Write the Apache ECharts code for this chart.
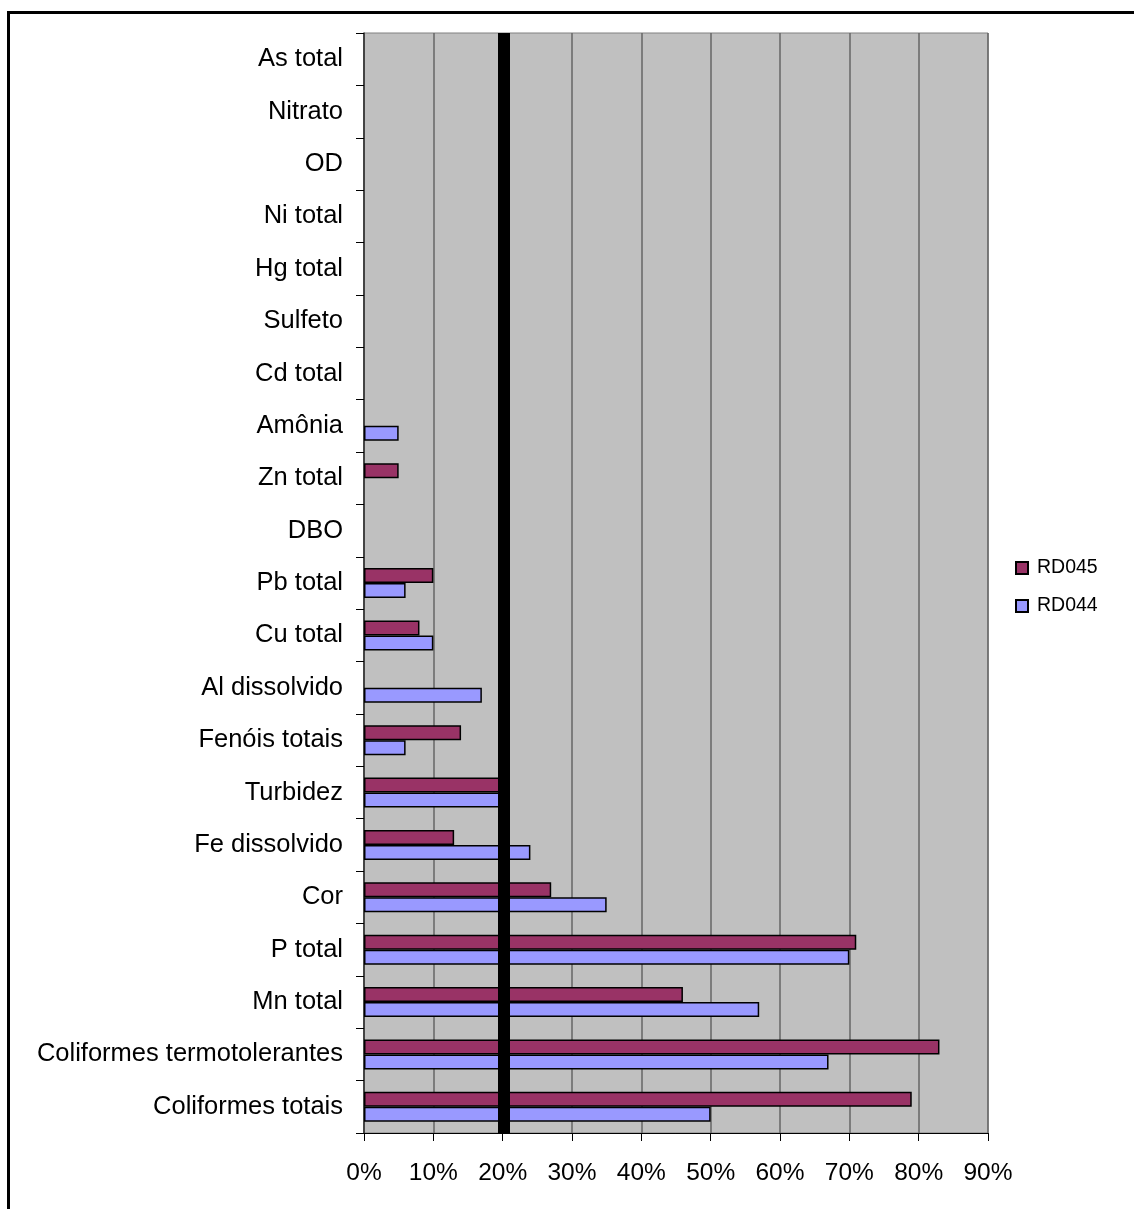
<!DOCTYPE html>
<html>
<head>
<meta charset="utf-8">
<script src="https://cdn.jsdelivr.net/npm/echarts@6/dist/echarts.min.js"></script>
<style>
  html, body { margin: 0; padding: 0; background: #fff; }
  #chart { width: 1134px; height: 1209px; }
</style>
</head>
<body>
<div id="chart"></div>
<script>
// Parameters, listed bottom to top along the category axis
const categories = [
  'Coliformes totais', 'Coliformes termotolerantes', 'Mn total', 'P total', 'Cor',
  'Fe dissolvido', 'Turbidez', 'Fenóis totais', 'Al dissolvido', 'Cu total',
  'Pb total', 'DBO', 'Zn total', 'Amônia', 'Cd total', 'Sulfeto', 'Hg total',
  'Ni total', 'OD', 'Nitrato', 'As total'
];

// Percentage of samples out of standard, per station
const rd045 = [79, 83, 46, 71, 27, 13, 21, 14, 0, 8, 10, 0, 5, 0, 0, 0, 0, 0, 0, 0, 0];
const rd044 = [50, 67, 57, 70, 35, 24, 21, 6, 17, 10, 6, 0, 0, 5, 0, 0, 0, 0, 0, 0, 0];

// Reference limit drawn as a heavy vertical line
const limitLine = 20.2;

const xTicks = { min: 0, max: 90, interval: 10 };

const font = 'Liberation Sans, Arial, sans-serif';

const chart = echarts.init(document.getElementById('chart'));

// Zero values are left empty so no sliver is drawn on the axis
const nz = arr => arr.map(v => (v === 0 ? '-' : v));

chart.setOption({
  animation: false,
  backgroundColor: '#ffffff',
  graphic: [{
    type: 'rect',
    shape: { x: 8.5, y: 12.5, width: 1200, height: 1300 },
    style: { fill: 'none', stroke: '#000', lineWidth: 3 },
    silent: true
  }],
  legend: {
    orient: 'vertical',
    left: 1010,
    top: 553,
    itemWidth: 12,
    itemHeight: 12,
    itemGap: 18,
    icon: 'rect',
    data: ['RD045', 'RD044'],
    textStyle: { fontFamily: font, fontSize: 19.5, color: '#000', padding: [0, 0, 0, 4] }
  },
  grid: {
    left: 364, right: 146, top: 33, bottom: 76,
    show: true,
    backgroundColor: '#c0c0c0',
    borderColor: '#808080',
    borderWidth: 1
  },
  xAxis: {
    type: 'value',
    min: xTicks.min, max: xTicks.max, interval: xTicks.interval,
    axisLine: { show: true, lineStyle: { color: '#000', width: 1 } },
    axisTick: { show: true, length: 8, lineStyle: { color: '#000' } },
    splitLine: { show: true, lineStyle: { color: '#666', width: 1.5 } },
    axisLabel: {
      formatter: '{value}%',
      fontFamily: font, fontSize: 24.5, color: '#000', margin: 28
    }
  },
  yAxis: {
    type: 'category',
    data: categories,
    axisLine: { show: true, lineStyle: { color: '#333', width: 1.5 } },
    axisTick: { show: true, length: 8, lineStyle: { color: '#000' } },
    splitLine: { show: false },
    axisLabel: {
      fontFamily: font, fontSize: 25.5, color: '#000', margin: 21,
      padding: [4, 0, 0, 0]
    }
  },
  series: [
    {
      name: 'RD045',
      type: 'bar',
      data: nz(rd045),
      barWidth: 15,
      barGap: '0%',
      itemStyle: { color: '#993366', borderColor: '#000', borderWidth: 1.5 }
    },
    {
      name: 'RD044',
      type: 'bar',
      data: nz(rd044),
      barWidth: 15,
      barGap: '0%',
      itemStyle: { color: '#9999ff', borderColor: '#000', borderWidth: 1.5 },
      markLine: {
        silent: true,
        symbol: 'none',
        label: { show: false },
        lineStyle: { color: '#000', width: 12, type: 'solid' },
        data: [{ xAxis: limitLine }]
      }
    }
  ]
});
</script>
</body>
</html>
